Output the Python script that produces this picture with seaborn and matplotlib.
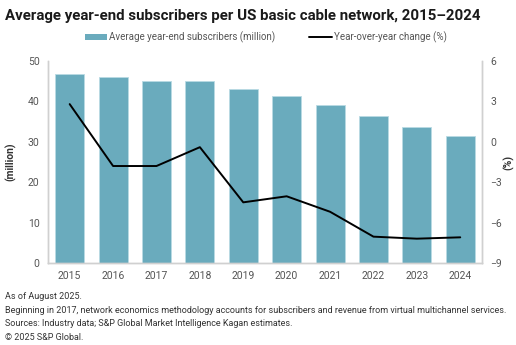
import matplotlib
matplotlib.use("Agg")
import matplotlib.pyplot as plt
import seaborn as sns
import pandas as pd
from matplotlib.patches import Patch
from matplotlib.lines import Line2D

years = ["2015", "2016", "2017", "2018", "2019", "2020", "2021", "2022", "2023", "2024"]
subscribers = [46.8, 46.0, 45.1, 45.0, 43.0, 41.3, 39.2, 36.4, 33.7, 31.4]
yoy_change = [2.8, -1.8, -1.8, -0.4, -4.5, -4.05, -5.2, -7.05, -7.2, -7.1]

bar_label = "Average year-end subscribers (million)"
line_label = "Year-over-year change (%)"
title = "Average year-end subscribers per US basic cable network, 2015\u20132024"
notes = [
    "As of August 2025.",
    "Beginning in 2017, network economics methodology accounts for subscribers and revenue from virtual multichannel services.",
    "Sources: Industry data; S&P Global Market Intelligence Kagan estimates.",
    "\u00a9 2025 S&P Global.",
]

df = pd.DataFrame({"year": years, "subs": subscribers, "yoy": yoy_change})

sns.set_theme(style="white")
plt.rcParams["font.family"] = ["Roboto", "DejaVu Sans"]

bar_color = "#6aabbd"
text_color = "#555555"

fig = plt.figure(figsize=(5.16, 3.45), dpi=100)
ax = fig.add_axes([0.093, 0.238, 0.841, 0.585])

sns.barplot(data=df, x="year", y="subs", color=bar_color, saturation=1,
            width=0.67, edgecolor="#b9dbe4", linewidth=0.6, ax=ax)
ax.set_ylim(0, 50)
ax.set_yticks([0, 10, 20, 30, 40, 50])
ax.set_xlim(-0.5, 9.5)
ax.set_xlabel("")
ax.set_ylabel("(million)", fontsize=7.5, fontweight="bold", color="#333333", labelpad=8)

ax2 = ax.twinx()
sns.pointplot(data=df, x="year", y="yoy", color="black", markers="", linestyles="-",
              ax=ax2)
for l in ax2.lines:
    l.set_linewidth(1.4)
ax2.set_ylim(-9, 6)
ax2.set_yticks([-9, -6, -3, 0, 3, 6])
ax2.set_xlim(-0.5, 9.5)
ax2.set_xlabel("")
ax2.set_ylabel("(%)", fontsize=7.5, fontweight="bold", color="#333333", labelpad=1, rotation=90)

for a in (ax, ax2):
    a.tick_params(axis="both", length=0, labelsize=7.5, labelcolor=text_color, pad=6)
    for s in ("top",):
        a.spines[s].set_visible(False)
    for s in ("left", "right", "bottom"):
        a.spines[s].set_color("#d0d0d0")
        a.spines[s].set_linewidth(1.0)

handles = [Patch(facecolor=bar_color, edgecolor="none"),
           Line2D([0], [0], color="black", lw=1.4)]
fig.legend(handles, [bar_label, line_label], loc="center", bbox_to_anchor=(0.515, 0.893),
           ncol=2, frameon=False, fontsize=7.0, labelcolor=text_color,
           handlelength=2.3, handleheight=0.6, handletextpad=0.2, columnspacing=3.5)

fig.text(0.01, 0.955, title, fontsize=10.8, fontweight="bold", color="#1a1a1a", va="center", ha="left")

ys = [0.141, 0.101, 0.063, 0.022]
for t, y in zip(notes, ys):
    fig.text(0.01, y, t, fontsize=6.5, color="#333333", va="center", ha="left")

fig.savefig("out.png", dpi=100)
